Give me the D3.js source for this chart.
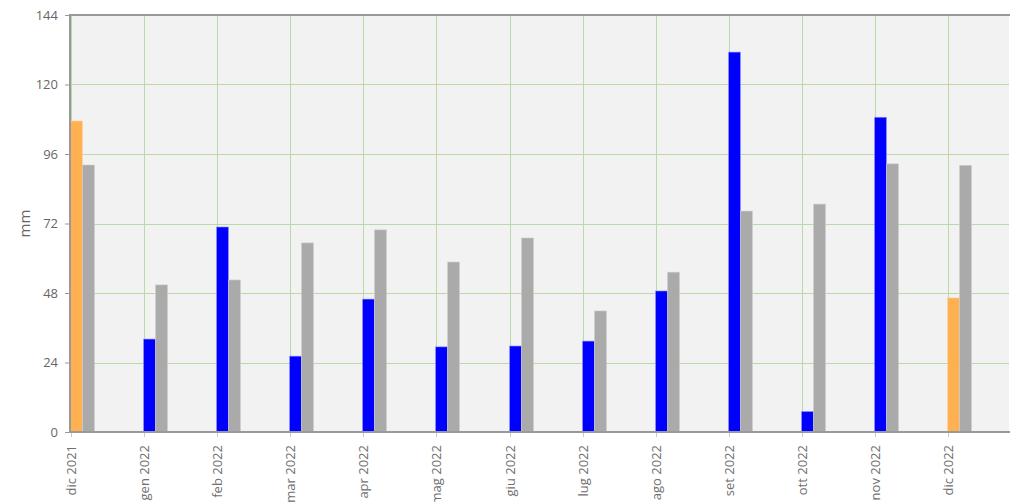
<!DOCTYPE html>
<html>
<head>
<meta charset="utf-8">
<script src="https://cdn.jsdelivr.net/npm/d3@7"></script>
<style>
  body { margin: 0; background: #fff; }
  svg text { font-family: "Open Sans", sans-serif; fill: #666; }
</style>
</head>
<body>
<div id="chart"></div>
<script>
// months on the x axis
var months = ["dic 2021", "gen 2022", "feb 2022", "mar 2022", "apr 2022", "mag 2022",
  "giu 2022", "lug 2022", "ago 2022", "set 2022", "ott 2022", "nov 2022", "dic 2022"];
// rain of the month (mm)
var rain = [107.4, 32.1, 70.8, 26.2, 45.9, 29.4, 29.7, 31.4, 48.7, 131.2, 7.1, 108.7, 46.3];
// incomplete months drawn in orange
var partial = [true, false, false, false, false, false, false, false, false, false, false, false, true];
// long-term average (mm)
var average = [92.2, 50.8, 52.5, 65.3, 69.8, 58.7, 67.0, 41.8, 55.2, 76.3, 78.7, 92.6, 92.1];
var yTicks = [0, 24, 48, 72, 96, 120, 144];

var width = 1010, height = 502;
// plot box ("top" is taken by window.top, so prefixed names)
var pLeft = 70, pTop = 15, pRight = 1009, pBottom = 432;
var barW = 12;

var svg = d3.select("#chart").append("svg")
  .attr("width", width)
  .attr("height", height);

var x = d3.scaleLinear().domain([0, 12]).range([pLeft + 1, 948]);
var y = d3.scaleLinear().domain([0, 144]).range([pBottom, pTop]);

//plot background
svg.append("rect")
  .attr("x", pLeft).attr("y", pTop)
  .attr("width", pRight - pLeft).attr("height", pBottom - pTop)
  .attr("fill", "#f2f2f2");

//grid
svg.append("g")
  .selectAll("line")
  .data(yTicks.slice(1, -1))
  .enter().append("line")
  .attr("x1", pLeft).attr("x2", pRight)
  .attr("y1", function (d) { return Math.round(y(d)) + 0.5; })
  .attr("y2", function (d) { return Math.round(y(d)) + 0.5; })
  .attr("stroke", "#b9d9a9").attr("stroke-width", 1);

svg.append("g")
  .selectAll("line")
  .data(months)
  .enter().append("line")
  .attr("x1", function (d, i) { return Math.round(x(i)) + 0.5; })
  .attr("x2", function (d, i) { return Math.round(x(i)) + 0.5; })
  .attr("y1", pTop).attr("y2", pBottom + 5)
  .attr("stroke", "#b9d9a9").attr("stroke-width", 1);

//bars
svg.append("g")
  .selectAll("rect")
  .data(rain)
  .enter().append("rect")
  .attr("x", function (d, i) { return Math.round(x(i)) - 0.5; })
  .attr("y", function (d) { return y(d); })
  .attr("width", barW)
  .attr("height", function (d) { return pBottom - y(d); })
  .attr("fill", function (d, i) { return partial[i] ? "#ffb050" : "#0000ff"; })
  .attr("stroke", function (d, i) { return partial[i] ? "#ffd6a0" : "#9a9aff"; })
  .attr("stroke-width", 0.6);

svg.append("g")
  .selectAll("rect")
  .data(average)
  .enter().append("rect")
  .attr("x", function (d, i) { return Math.round(x(i)) - 0.5 + barW; })
  .attr("y", function (d) { return y(d); })
  .attr("width", barW)
  .attr("height", function (d) { return pBottom - y(d); })
  .attr("fill", "#aaaaaa")
  .attr("stroke", "#cfcfcf")
  .attr("stroke-width", 0.6);

//axes
var yAxis = svg.append("g")
  .attr("transform", "translate(" + pLeft + ",0)")
  .call(d3.axisLeft(y).tickValues(yTicks).tickSize(5).tickPadding(7));
yAxis.select(".domain").remove();
yAxis.selectAll(".tick line").attr("stroke", "#999");
yAxis.selectAll("text").attr("font-size", 13).style("fill", "#666");

svg.append("line")
  .attr("x1", pLeft).attr("x2", pLeft)
  .attr("y1", pTop - 1).attr("y2", pBottom + 1)
  .attr("stroke", "#999").attr("stroke-width", 2);
svg.append("line")
  .attr("x1", pLeft - 1).attr("x2", width)
  .attr("y1", pTop).attr("y2", pTop)
  .attr("stroke", "#999").attr("stroke-width", 2);
svg.append("line")
  .attr("x1", pLeft - 1).attr("x2", width)
  .attr("y1", pBottom).attr("y2", pBottom)
  .attr("stroke", "#999").attr("stroke-width", 2);

//month labels
svg.append("g")
  .selectAll("text")
  .data(months)
  .enter().append("text")
  .attr("transform", function (d, i) {
    return "translate(" + (Math.round(x(i)) + 5) + "," + (pBottom + 13) + ") rotate(-90)";
  })
  .attr("text-anchor", "end")
  .attr("font-size", 13)
  .style("fill", "#6f6f6f")
  .text(function (d) { return d; });

svg.append("text")
  .attr("transform", "translate(30," + ((pTop + pBottom) / 2) + ") rotate(-90)")
  .attr("text-anchor", "middle")
  .attr("font-size", 15)
  .text("mm");
</script>
</body>
</html>
